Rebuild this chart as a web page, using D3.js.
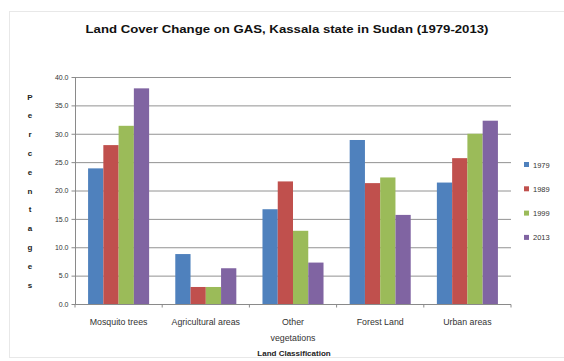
<!DOCTYPE html>
<html><head><meta charset="utf-8">
<script src="https://cdn.jsdelivr.net/npm/d3@7"></script>
<style>body{margin:0;background:#fff}svg{display:block}</style>
</head><body>
<svg id="c" width="564" height="361"></svg>
<script>
const categories = ["Mosquito trees", "Agricultural areas", "Other vegetations", "Forest Land", "Urban areas"];
const categoryLines = [["Mosquito trees"], ["Agricultural areas"], ["Other", "vegetations"], ["Forest Land"], ["Urban areas"]];
const years = ["1979", "1989", "1999", "2013"];
const v1979 = [23.9, 8.8, 16.7, 28.9, 21.4];
const v1989 = [28.0, 3.0, 21.6, 21.3, 25.7];
const v1999 = [31.4, 3.0, 12.9, 22.3, 30.0];
const v2013 = [38.0, 6.3, 7.3, 15.7, 32.3];
const yTicks = [0, 5, 10, 15, 20, 25, 30, 35, 40];
const colors = ["#4F81BD", "#C0504D", "#9BBB59", "#8064A2"];
const series = [v1979, v1989, v1999, v2013];

const svg = d3.select("#c");
const font = "'Liberation Sans', Arial, sans-serif";
// outer border
svg.append("rect").attr("x", 9.5).attr("y", 11.5).attr("width", 560).attr("height", 346)
  .attr("fill", "none").attr("stroke", "#e8e8e8");

const L = 75, R = 511, T = 77, B = 304;
const x = d3.scaleBand().domain(categories).range([L, R]).paddingInner(0.3).paddingOuter(0.15);
const x1 = d3.scaleBand().domain(years).range([0, x.bandwidth()]);
const y = d3.scaleLinear().domain([0, 40]).range([B, T]);

// gridlines
svg.append("g").selectAll("line").data(yTicks).join("line")
  .attr("x1", L).attr("x2", R).attr("y1", d => y(d) + 0.5).attr("y2", d => y(d) + 0.5)
  .attr("stroke", "#929292").attr("stroke-width", 1);

// bars
const g = svg.append("g");
categories.forEach((c, i) => {
  years.forEach((yr, j) => {
    g.append("rect")
      .attr("x", x(c) + x1(yr)).attr("y", y(series[j][i]))
      .attr("width", x1.bandwidth()).attr("height", B - y(series[j][i]))
      .attr("fill", colors[j]);
  });
});

// y axis
const ya = svg.append("g").attr("transform", `translate(${L + 0.5},0)`)
  .call(d3.axisLeft(y).tickValues(yTicks).tickSize(4).tickFormat(d3.format(".1f")));
ya.selectAll(".domain").attr("stroke", "#8a8a8a").attr("d", `M0,${T}V${B + 0.5}`);
ya.selectAll(".tick line").attr("stroke", "#8a8a8a");
ya.selectAll(".tick text").attr("font-family", font).attr("font-size", 7).attr("fill", "#333").attr("x", -7);

// x axis
const xa = svg.append("g").attr("transform", `translate(0,${B + 0.5})`);
xa.append("line").attr("x1", L).attr("x2", R).attr("stroke", "#8a8a8a");
const bounds = d3.range(categories.length + 1).map(i => L + i * (R - L) / categories.length);
xa.selectAll("line.t").data(bounds).join("line").attr("class", "t")
  .attr("x1", d => d).attr("x2", d => d).attr("y1", 0).attr("y2", 3).attr("stroke", "#8a8a8a");
categories.forEach((c, i) => {
  const t = svg.append("text").attr("text-anchor", "middle").attr("font-family", font)
    .attr("font-size", 8.8).attr("fill", "#333");
  categoryLines[i].forEach((ln, k) => {
    t.append("tspan").attr("x", x(c) + x.bandwidth() / 2).attr("y", 325 + k * 16).text(ln);
  });
});

// axis titles
svg.append("text").attr("x", 294).attr("y", 356).attr("text-anchor", "middle")
  .attr("font-family", font).attr("font-size", 8).attr("font-weight", "bold").attr("fill", "#222")
  .text("Land Classification");
const ylab = "Percentages".split("");
svg.append("g").selectAll("text").data(ylab).join("text")
  .attr("x", 30).attr("y", (d, i) => 99.5 + i * 18.8).attr("text-anchor", "middle")
  .attr("font-family", font).attr("font-size", 8).attr("font-weight", "bold").attr("fill", "#222")
  .text(d => d);

// title
svg.append("text").attr("x", 287).attr("y", 33).attr("text-anchor", "middle")
  .attr("font-family", font).attr("font-size", 10.5).attr("font-weight", "bold").attr("fill", "#111")
  .attr("textLength", 403).attr("lengthAdjust", "spacingAndGlyphs")
  .text("Land Cover Change on GAS, Kassala state in Sudan (1979-2013)");

// legend
const lg = svg.append("g");
years.forEach((yr, j) => {
  const yy = 165 + j * 24.3;
  lg.append("rect").attr("x", 524).attr("y", yy - 3).attr("width", 5).attr("height", 5).attr("fill", colors[j]);
  lg.append("text").attr("x", 533).attr("y", yy + 2.5).attr("font-family", font).attr("font-size", 7.5)
    .attr("fill", "#333").text(yr);
});
</script>
</body></html>
